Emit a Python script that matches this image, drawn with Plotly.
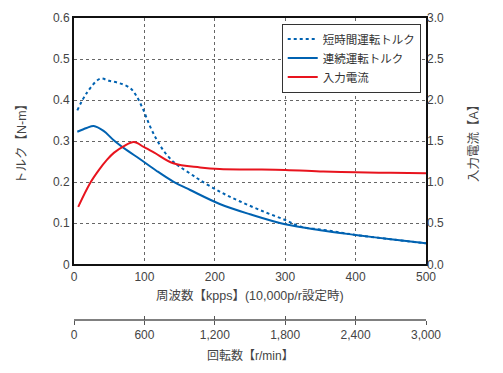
import plotly.graph_objects as go

# ---- data ----
short_x = [4.7, 18, 37, 50, 65, 80, 89, 98.5, 108, 117, 128, 141, 150, 165, 179, 207, 236, 270, 300, 321, 354, 380, 400, 450, 500]
short_y = [0.375, 0.417, 0.452, 0.447, 0.441, 0.429, 0.409, 0.376, 0.336, 0.305, 0.275, 0.250, 0.238, 0.221, 0.205, 0.177, 0.153, 0.128, 0.108, 0.092, 0.084, 0.077, 0.0715, 0.061, 0.051]

cont_x = [4.7, 18, 28, 42, 56, 75, 94, 117, 141, 165, 207, 250, 300, 350, 400, 450, 500]
cont_y = [0.323, 0.332, 0.337, 0.325, 0.303, 0.278, 0.256, 0.228, 0.2015, 0.181, 0.147, 0.122, 0.0975, 0.083, 0.0715, 0.061, 0.051]

curr_x = [6, 23, 35.5, 47, 57, 71, 85, 99, 114, 141, 179, 207, 250, 300, 354, 400, 450, 500]
curr_y = [0.70, 0.99, 1.15, 1.275, 1.36, 1.44, 1.49, 1.43, 1.36, 1.23, 1.18, 1.16, 1.155, 1.15, 1.13, 1.12, 1.115, 1.11]

freq_ticks = [0, 100, 200, 300, 400, 500]
torque_ticks = [0, 0.1, 0.2, 0.3, 0.4, 0.5, 0.6]
current_ticks = [0, 0.5, 1.0, 1.5, 2.0, 2.5, 3.0]
rpm_ticks = [0, 600, 1200, 1800, 2400, 3000]

names = ["短時間運転トルク", "連続運転トルク", "入力電流"]
BLUE = "#0062B1"
RED = "#E8141E"
FONT = "Liberation Sans, Noto Sans CJK JP, sans-serif"
TXT = "#444444"

fig = go.Figure()
fig.add_trace(go.Scatter(x=short_x, y=short_y, name=names[0], mode="lines",
                         line=dict(color=BLUE, width=2, dash="dot", shape="spline", smoothing=1.0)))
fig.add_trace(go.Scatter(x=cont_x, y=cont_y, name=names[1], mode="lines",
                         line=dict(color=BLUE, width=2, shape="spline", smoothing=1.0)))
fig.add_trace(go.Scatter(x=curr_x, y=curr_y, name=names[2], mode="lines", yaxis="y2",
                         line=dict(color=RED, width=2, shape="spline", smoothing=1.0)))
# dummy traces for rpm axes
fig.add_trace(go.Scatter(x=rpm_ticks, y=[None] * len(rpm_ticks), xaxis="x2", showlegend=False, hoverinfo="skip"))
fig.add_trace(go.Scatter(x=rpm_ticks, y=[None] * len(rpm_ticks), xaxis="x3", showlegend=False, hoverinfo="skip"))

H = 373
T, B = 18, 20
plot_h = H - T - B
ydom0 = (H - B - 264.3) / plot_h
rpm_pos = (H - B - 320) / plot_h

grid = dict(showgrid=True, gridcolor="#666666", griddash="dot", gridwidth=1)

fig.update_layout(
    width=503, height=373,
    margin=dict(l=74, r=77, t=T, b=B),
    paper_bgcolor="white", plot_bgcolor="white",
    font=dict(family=FONT, size=12, color=TXT),
    showlegend=True,
    legend=dict(x=0.985, y=(H - B - 23.5) / plot_h, xanchor="right", yanchor="top",
                bgcolor="white", bordercolor="#333333", borderwidth=1,
                font=dict(size=11.5, color="#333333"), tracegroupgap=0,
                itemwidth=30),
    xaxis=dict(range=[0, 500], tickvals=freq_ticks, anchor="y", domain=[0, 1],
               showline=True, linecolor="#111111", linewidth=2, mirror=True,
               ticks="", tickfont=dict(size=12, color=TXT), zeroline=False, **grid),
    yaxis=dict(range=[0, 0.6], tickvals=torque_ticks, domain=[ydom0, 1],
               showline=True, linecolor="#111111", linewidth=2, mirror=True,
               ticks="", tickfont=dict(size=12, color=TXT), zeroline=False, **grid),
    yaxis2=dict(range=[0, 3], tickvals=current_ticks, tickformat=".1f", overlaying="y",
                side="right", anchor="x", showgrid=False, zeroline=False, ticks="",
                tickfont=dict(size=12, color=TXT)),
    xaxis2=dict(range=[0, 3000], tickvals=rpm_ticks, tickformat=",d", overlaying="x",
                anchor="free", position=rpm_pos, side="bottom",
                showline=True, linecolor="#808080", linewidth=2, showgrid=False, zeroline=False,
                ticks="outside", ticklen=4, tickwidth=1, tickcolor="#555555",
                tickfont=dict(size=12, color=TXT)),
    xaxis3=dict(range=[0, 3000], tickvals=rpm_ticks, overlaying="x",
                anchor="free", position=rpm_pos, side="bottom",
                showline=False, showgrid=False, zeroline=False, showticklabels=False,
                ticks="inside", ticklen=4, tickwidth=1, tickcolor="#555555"),
)

fig.add_annotation(text="周波数【kpps】(10,000p/r設定時)", xref="paper", yref="paper",
                   x=0.5, y=(H - B - 295) / plot_h, showarrow=False,
                   font=dict(size=12.5, color=TXT), xanchor="center", yanchor="middle")
fig.add_annotation(text="回転数【r/min】", xref="paper", yref="paper",
                   x=0.5, y=(H - B - 355) / plot_h, showarrow=False,
                   font=dict(size=12, color=TXT), xanchor="center", yanchor="middle")
fig.add_annotation(text="トルク【N-m】", xref="paper", yref="paper",
                   x=(22 - 74) / 352, y=(H - B - 141) / plot_h, showarrow=False, textangle=-90,
                   font=dict(size=12.5, color=TXT), xanchor="center", yanchor="middle")
fig.add_annotation(text="入力電流【A】", xref="paper", yref="paper",
                   x=(474 - 74) / 352, y=(H - B - 141) / plot_h, showarrow=False, textangle=-90,
                   font=dict(size=12.5, color=TXT), xanchor="center", yanchor="middle")

fig.write_html("out.html", config={"displayModeBar": False},
               post_script="document.body.style.margin='0';")
